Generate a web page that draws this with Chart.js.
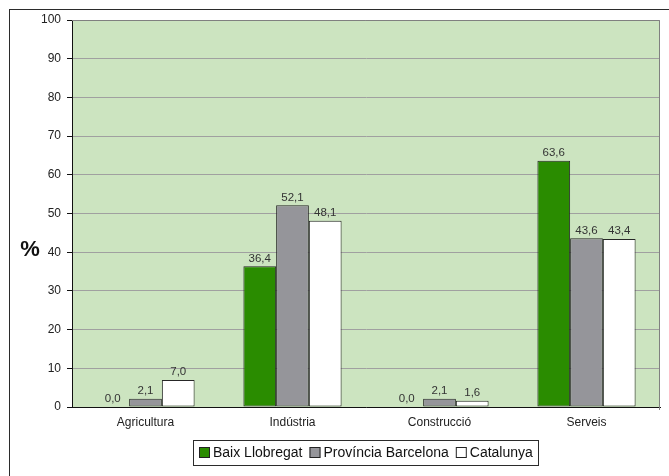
<!DOCTYPE html>
<html>
<head>
<meta charset="utf-8">
<script src="https://cdn.jsdelivr.net/npm/chart.js@4/dist/chart.umd.min.js"></script>
<style>
  html, body { margin: 0; padding: 0; background: #fff; }
  canvas { display: block; }
</style>
</head>
<body>
<canvas id="chart" width="669" height="476"></canvas>
<script>
// data
const sectors = ['Agricultura', 'Indústria', 'Construcció', 'Serveis']
const baixLlobregat = [0.0, 36.4, 0.0, 63.6]
const provinciaBarcelona = [2.1, 52.1, 2.1, 43.6]
const catalunya = [7.0, 48.1, 1.6, 43.4]
const seriesNames = ['Baix Llobregat', 'Província Barcelona', 'Catalunya']
const seriesColors = ['#2a8c00', '#95959a', '#ffffff']
const yTicks = [0, 10, 20, 30, 40, 50, 60, 70, 80, 90, 100]

const font = "'Liberation Sans', Arial, sans-serif"
const fmt = (v) => v.toFixed(1).replace('.', ',')

// frame, plot background, plot border, "%" title, boxed legend
const decorations = {
  id: 'decorations',
  beforeDraw(chart) {
    const {ctx, chartArea: a} = chart
    ctx.save()
    ctx.fillStyle = '#fff'
    ctx.fillRect(0, 0, chart.width, chart.height)
    ctx.strokeStyle = '#2b2b2b'
    ctx.lineWidth = 1
    ctx.strokeRect(9.5, 9.5, chart.width + 20, chart.height + 20)
    ctx.fillStyle = '#cce4c0'
    ctx.fillRect(a.left, a.top, a.right - a.left, a.bottom - a.top)
    ctx.restore()
  },
  afterDraw(chart) {
    const {ctx, chartArea: a} = chart
    ctx.save()
    ctx.strokeStyle = '#808080'
    ctx.lineWidth = 1
    ctx.beginPath()
    ctx.moveTo(a.left, a.top + 0.5)
    ctx.lineTo(a.right - 0.5, a.top + 0.5)
    ctx.lineTo(a.right - 0.5, a.bottom + 3)
    ctx.stroke()

    ctx.fillStyle = '#111'
    ctx.font = 'bold 22px ' + font
    ctx.textAlign = 'center'
    ctx.textBaseline = 'middle'
    ctx.fillText('%', 30, a.top + (a.bottom - a.top) * 0.595)

    // legend: box 11px, gap 3, text, gap 7
    ctx.font = '14px ' + font
    const box = 11, gapText = 3, gapItem = 7
    const widths = chart.data.datasets.map((ds) => ctx.measureText(ds.label).width)
    const total = widths.reduce((s, w) => s + box + gapText + w, 0) + gapItem * (widths.length - 1)
    let x = Math.round((a.left + a.right) / 2 - total / 2)
    const cy = 453
    ctx.strokeStyle = '#2b2b2b'
    ctx.strokeRect(x - 5.5, cy - 12.5, Math.round(total + 11), 25)
    ctx.textAlign = 'left'
    ctx.textBaseline = 'middle'
    chart.data.datasets.forEach((ds, i) => {
      ctx.fillStyle = ds.backgroundColor
      ctx.fillRect(x, cy - 6, box, box)
      ctx.strokeStyle = '#222'
      ctx.strokeRect(x + 0.5, cy - 5.5, box - 1, box - 1)
      ctx.fillStyle = '#111'
      ctx.fillText(ds.label, x + box + gapText, cy)
      x += box + gapText + widths[i] + gapItem
    })
    ctx.restore()
  }
}

// value labels above each bar
const valueLabels = {
  id: 'valueLabels',
  afterDatasetsDraw(chart) {
    const {ctx} = chart
    ctx.save()
    ctx.font = '11.5px ' + font
    ctx.fillStyle = '#333'
    ctx.textAlign = 'center'
    ctx.textBaseline = 'bottom'
    chart.data.datasets.forEach((ds, i) => {
      chart.getDatasetMeta(i).data.forEach((bar, j) => {
        ctx.fillText(fmt(ds.data[j]), bar.x, bar.y - 2)
      })
    })
    ctx.restore()
  }
}

new Chart(document.getElementById('chart'), {
  type: 'bar',
  data: {
    labels: sectors,
    datasets: seriesNames.map((name, i) => ({
      label: name,
      data: [baixLlobregat, provinciaBarcelona, catalunya][i],
      backgroundColor: seriesColors[i],
    })),
  },
  options: {
    responsive: false,
    animation: false,
    devicePixelRatio: 1,
    layout: {padding: {top: 20, right: 9, bottom: 33.5, left: 0}},
    datasets: {
      bar: {
        borderColor: '#262626',
        borderWidth: 1,
        borderSkipped: false,
        categoryPercentage: 0.668,
        barPercentage: 1,
      },
    },
    plugins: {
      tooltip: {enabled: false},
      legend: {display: false},
    },
    scales: {
      x: {
        grid: {display: false, drawTicks: false},
        border: {display: true, color: '#111'},
        ticks: {color: '#222', padding: 8, font: {family: font, size: 12}},
        afterFit: (s) => { s.height = 35.5 },
      },
      y: {
        min: 0,
        max: 100,
        afterBuildTicks: (s) => { s.ticks = yTicks.map((v) => ({value: v})) },
        grid: {color: '#a0a0a0', tickColor: '#111', tickLength: 5},
        border: {display: true, color: '#111'},
        ticks: {color: '#222', padding: 6, font: {family: font, size: 12}},
        afterFit: (s) => { s.width = 72 },
      },
    },
  },
  plugins: [decorations, valueLabels],
})
</script>
</body>
</html>
